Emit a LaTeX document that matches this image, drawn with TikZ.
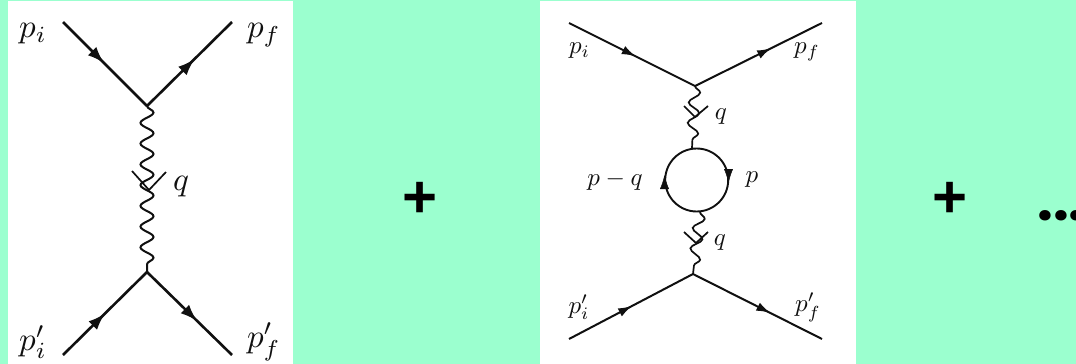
\documentclass[tikz,border=0pt]{standalone}
\usepackage{fontspec}
\setsansfont{Liberation Sans}
\newfontfamily\dotfont{Poppins}
\usetikzlibrary{decorations.pathmorphing,decorations.markings,arrows.meta}
\definecolor{mint}{HTML}{9BFFCF}
\definecolor{ink}{HTML}{101010}
\tikzset{
  panel/.style={fill=white,draw=none},
  fermion/.style={draw=ink,line width=#1},
  fermion/.default=2pt,
  tip/.style={postaction={decorate,decoration={markings,mark=at position #1 with {\arrow[ink]{Latex[length=17pt,width=12pt]}}}}},
  smalltip/.style={postaction={decorate,decoration={markings,mark=at position #1 with {\arrow[ink]{Latex[length=14pt,width=9pt]}}}}},
  bigphoton/.style={draw=ink,line width=2pt,decorate,decoration={snake,amplitude=6.5pt,segment length=20.75pt}},
  smallphoton/.style={draw=ink,line width=1.7pt,decorate,decoration={snake,amplitude=5.5pt,segment length=20.5pt}},
  vee/.style={draw=ink,line width=1.7pt},
  biglabel/.style={text=ink,scale=3.3,transform shape,inner sep=0pt},
  smalllabel/.style={text=ink,scale=2.5,transform shape,inner sep=0pt},
  op/.style={font=\sffamily\bfseries\fontsize{60}{60}\selectfont,text=black,inner sep=0pt},
  dotrow/.style={font=\dotfont\bfseries\fontsize{56}{56}\selectfont,text=black,inner sep=0pt}
}
\begin{document}
\begin{tikzpicture}[x=1pt,y=-1pt]
\useasboundingbox (0,0) rectangle (1076,364);
\fill[mint] (0,0) rectangle (1076,364);
\fill[panel] (8,1) rectangle (293,364);
\fill[panel] (540,1) rectangle (856,364);
% left diagram
\coordinate (a1) at (63,22);
\coordinate (a2) at (232,22);
\coordinate (a3) at (63,355);
\coordinate (a4) at (232,355);
\coordinate (av) at (147,106);
\coordinate (aw) at (147,272);
\coordinate (am) at (149,190);
\coordinate (al) at (132,171);
\coordinate (ar) at (166,172);
\draw[fermion=2.6pt,tip=0.49] (a1) -- (av);
\draw[fermion=2.6pt,tip=0.56] (av) -- (a2);
\draw[fermion=2.6pt,tip=0.50] (a3) -- (aw);
\draw[fermion=2.6pt,tip=0.59] (aw) -- (a4);
\draw[bigphoton] (av) -- (aw);
\draw[vee] (al) -- (am) -- (ar);
\node[biglabel] (api) at (33,34) {$p_i$};
\node[biglabel] (apf) at (264,35) {$p_f$};
\node[biglabel] (aq) at (181,187) {$q$};
\node[biglabel] (apip) at (33,342) {$p'_i$};
\node[biglabel] (apfp) at (264,342) {$p'_f$};
% plus
\node[op] (plusa) at (420,200) {+};
% right diagram
\coordinate (b1) at (569,23);
\coordinate (b2) at (822,23);
\coordinate (b3) at (569,339);
\coordinate (b4) at (822,339);
\coordinate (bv) at (695,86);
\coordinate (bw) at (693,274);
\coordinate (bc) at (696.7,180);
\coordinate (bt) at (692,148);
\coordinate (bb) at (700,212);
\draw[fermion=2pt,smalltip=0.53] (b1) -- (bv);
\draw[fermion=2pt,smalltip=0.60] (bv) -- (b2);
\draw[fermion=2pt,smalltip=0.51] (b3) -- (bw);
\draw[fermion=2pt,smalltip=0.60] (bw) -- (b4);
\draw[smallphoton] (bv) -- (bt);
\draw[smallphoton] (bb) -- (bw);
\draw[fermion=1.9pt] (bc) circle[radius=31.5];
\coordinate (bra) at (728.5,173);
\coordinate (brb) at (728.5,193);
\coordinate (bla) at (664.5,195);
\coordinate (blb) at (664.5,155);
\path[smalltip=0.5] (bra) -- (brb);
\path[smalltip=0.5] (bla) -- (blb);
\coordinate (bm1) at (695,117);
\coordinate (bl1) at (684,106);
\coordinate (br1) at (708,106);
\coordinate (bm2) at (696,243);
\coordinate (bl2) at (684,232);
\coordinate (br2) at (708,232);
\draw[vee] (bl1) -- (bm1) -- (br1);
\draw[vee] (bl2) -- (bm2) -- (br2);
\node[smalllabel] (bpi) at (579.5,51) {$p_i$};
\node[smalllabel] (bpf) at (807,52) {$p_f$};
\node[smalllabel] (bq1) at (721,117) {$q$};
\node[smalllabel] (bpq) at (615,181) {$p-q$};
\node[smalllabel] (bp) at (752,180) {$p$};
\node[smalllabel] (bq2) at (720,243) {$q$};
\node[smalllabel] (bpip) at (579,307) {$p'_i$};
\node[smalllabel] (bpfp) at (808,307) {$p'_f$};
% plus and dots
\node[op] (plusb) at (950,200) {+};
\node[dotrow,anchor=base west] (dots) at (1037,220) {...};
\end{tikzpicture}
\end{document}
